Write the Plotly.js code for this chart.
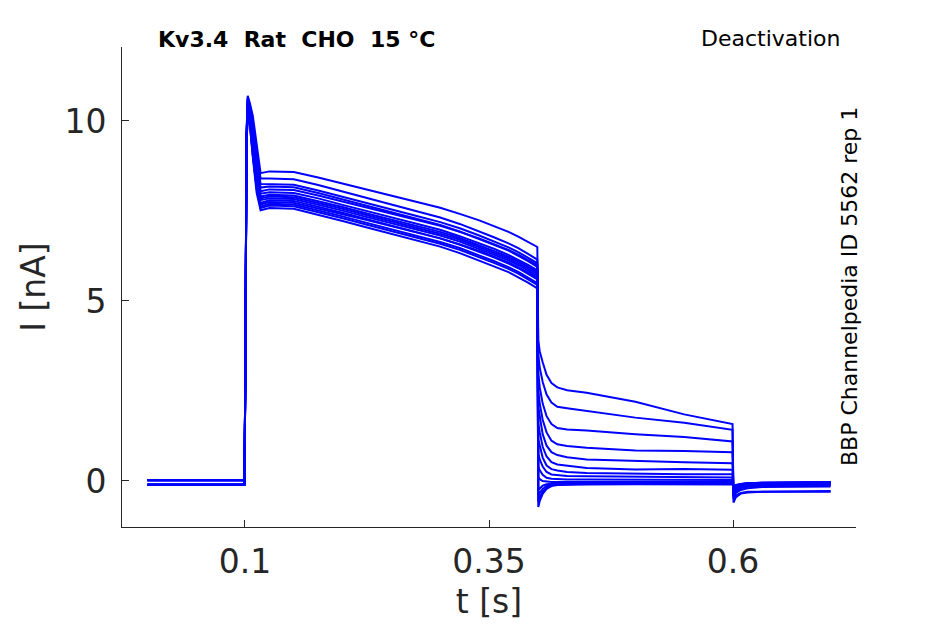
<!DOCTYPE html>
<html>
<head>
<meta charset="utf-8">
<script src="https://cdn.plot.ly/plotly-3.0.1.min.js"></script>
<style>html,body{margin:0;padding:0;background:#fff;}#chart{width:945px;height:624px;}</style>
</head>
<body>
<div id="chart"></div>
<script>
// time points (s) for each protocol segment
const tPre = [0, 0.0995];
const tPulse = [0.1005, 0.1015, 0.1028, 0.105, 0.108, 0.112, 0.116, 0.125,
                0.15, 0.175, 0.2, 0.225, 0.25, 0.275, 0.3, 0.32, 0.34, 0.355, 0.37, 0.38, 0.39, 0.3995];
const tTail = [0.4005, 0.402, 0.405, 0.409, 0.414, 0.42, 0.43, 0.45, 0.5, 0.55, 0.5995];
const tPost = [0.6005, 0.603, 0.608, 0.615, 0.63, 0.7];

// current (nA) per sweep, per segment
const iPre = [
  [0.02, 0.02], [-0.1, -0.1], [0.02, 0.02], [-0.1, -0.1], [0.03, 0.03], [-0.11, -0.11], [0.02, 0.02],
  [-0.1, -0.1], [0.03, 0.03], [-0.1, -0.1], [0.02, 0.02], [-0.11, -0.11], [0.02, 0.02], [0.03, 0.03]
];
const iPulse = [
  [3.6, 9.6, 10.7, 10.5, 10.15, 9.4, 8.55, 8.6, 8.58, 8.43, 8.26, 8.10, 7.93, 7.76, 7.59, 7.42, 7.24, 7.08, 6.92, 6.79, 6.65, 6.5],
  [3.5, 9.5, 10.65, 10.4, 9.95, 9.1, 8.4, 8.4, 8.38, 8.22, 8.04, 7.86, 7.68, 7.50, 7.32, 7.14, 6.94, 6.77, 6.60, 6.47, 6.31, 6.15],
  [3.6, 9.5, 10.6, 10.35, 9.85, 8.95, 8.25, 8.25, 8.23, 8.07, 7.90, 7.72, 7.55, 7.37, 7.19, 7.02, 6.82, 6.66, 6.49, 6.36, 6.20, 6.05],
  [3.4, 9.4, 10.6, 10.3, 9.8, 8.85, 8.15, 8.18, 8.16, 8.00, 7.82, 7.64, 7.47, 7.29, 7.11, 6.93, 6.73, 6.56, 6.40, 6.26, 6.11, 5.95],
  [3.5, 9.4, 10.55, 10.25, 9.7, 8.8, 8.05, 8.1, 8.08, 7.93, 7.76, 7.60, 7.43, 7.26, 7.09, 6.92, 6.74, 6.58, 6.42, 6.29, 6.15, 6.0],
  [3.6, 9.4, 10.5, 10.2, 9.6, 8.7, 7.98, 8.02, 8.00, 7.85, 7.67, 7.50, 7.33, 7.15, 6.98, 6.80, 6.61, 6.45, 6.28, 6.15, 6.00, 5.85],
  [3.5, 9.3, 10.5, 10.15, 9.5, 8.6, 7.9, 7.95, 7.93, 7.78, 7.61, 7.43, 7.26, 7.09, 6.92, 6.75, 6.55, 6.39, 6.23, 6.10, 5.95, 5.80],
  [3.4, 9.3, 10.45, 10.1, 9.45, 8.5, 7.85, 7.9, 7.88, 7.73, 7.56, 7.38, 7.21, 7.04, 6.87, 6.70, 6.50, 6.34, 6.18, 6.05, 5.90, 5.75],
  [3.5, 9.3, 10.45, 10.05, 9.35, 8.4, 7.8, 7.85, 7.83, 7.68, 7.51, 7.33, 7.16, 6.99, 6.82, 6.65, 6.45, 6.29, 6.13, 6.00, 5.85, 5.70],
  [3.6, 9.2, 10.4, 10.0, 9.3, 8.3, 7.72, 7.8, 7.78, 7.62, 7.45, 7.27, 7.10, 6.92, 6.74, 6.57, 6.37, 6.21, 6.04, 5.91, 5.75, 5.60],
  [3.4, 9.2, 10.4, 10.0, 9.2, 8.25, 7.68, 7.75, 7.73, 7.58, 7.41, 7.25, 7.08, 6.91, 6.74, 6.57, 6.39, 6.23, 6.07, 5.94, 5.80, 5.65],
  [3.5, 9.2, 10.35, 9.95, 9.1, 8.15, 7.62, 7.7, 7.68, 7.52, 7.35, 7.17, 7.00, 6.82, 6.64, 6.47, 6.27, 6.11, 5.94, 5.81, 5.65, 5.50],
  [3.5, 9.2, 10.3, 9.9, 9.05, 8.1, 7.58, 7.65, 7.63, 7.47, 7.30, 7.12, 6.95, 6.77, 6.59, 6.42, 6.22, 6.06, 5.89, 5.76, 5.60, 5.45],
  [3.6, 9.2, 10.3, 9.9, 9.0, 8.0, 7.52, 7.58, 7.56, 7.40, 7.22, 7.04, 6.87, 6.69, 6.51, 6.33, 6.13, 5.96, 5.80, 5.66, 5.51, 5.35]
];
const iTail = [
  [3.9, 3.6, 3.3, 2.95, 2.72, 2.6, 2.52, 2.45, 2.2, 1.85, 1.58],
  [3.5, 3.15, 2.75, 2.4, 2.18, 2.06, 2.02, 1.95, 1.76, 1.62, 1.42],
  [3.0, 2.6, 2.15, 1.8, 1.58, 1.47, 1.43, 1.4, 1.3, 1.22, 1.1],
  [2.5, 2.15, 1.7, 1.35, 1.12, 1.02, 0.97, 0.92, 0.85, 0.83, 0.8],
  [2.05, 1.75, 1.3, 0.98, 0.8, 0.72, 0.66, 0.6, 0.55, 0.52, 0.49],
  [1.6, 1.35, 0.95, 0.68, 0.52, 0.46, 0.42, 0.36, 0.32, 0.33, 0.31],
  [1.15, 0.95, 0.65, 0.43, 0.33, 0.29, 0.25, 0.22, 0.2, 0.19, 0.19],
  [0.75, 0.6, 0.4, 0.25, 0.18, 0.16, 0.14, 0.13, 0.12, 0.11, 0.1],
  [0.4, 0.3, 0.17, 0.09, 0.06, 0.05, 0.04, 0.04, 0.03, 0.03, 0.03],
  [0.1, 0.05, 0.0, -0.02, -0.03, -0.03, -0.03, -0.02, -0.02, -0.02, -0.02],
  [-0.25, -0.2, -0.13, -0.09, -0.07, -0.06, -0.05, -0.05, -0.05, -0.04, -0.04],
  [-0.42, -0.33, -0.22, -0.14, -0.1, -0.08, -0.07, -0.07, -0.06, -0.06, -0.06],
  [-0.58, -0.45, -0.3, -0.18, -0.12, -0.1, -0.09, -0.08, -0.08, -0.08, -0.08],
  [-0.72, -0.55, -0.36, -0.22, -0.14, -0.11, -0.1, -0.1, -0.09, -0.09, -0.1]
];
const iPost = [
  [-0.6, -0.45, -0.35, -0.32, -0.3, -0.3],
  [-0.5, -0.4, -0.33, -0.3, -0.3, -0.28],
  [-0.45, -0.33, -0.25, -0.2, -0.17, -0.15],
  [-0.4, -0.3, -0.2, -0.16, -0.14, -0.12],
  [-0.35, -0.25, -0.17, -0.13, -0.12, -0.1],
  [-0.3, -0.22, -0.15, -0.12, -0.1, -0.09],
  [-0.27, -0.2, -0.13, -0.1, -0.09, -0.07],
  [-0.25, -0.17, -0.12, -0.1, -0.08, -0.06],
  [-0.22, -0.15, -0.1, -0.08, -0.07, -0.05],
  [-0.2, -0.14, -0.1, -0.08, -0.06, -0.05],
  [-0.18, -0.13, -0.09, -0.07, -0.06, -0.04],
  [-0.17, -0.12, -0.09, -0.07, -0.05, -0.04],
  [-0.16, -0.12, -0.08, -0.06, -0.05, -0.03],
  [-0.15, -0.11, -0.08, -0.06, -0.05, -0.03]
];

const xTickVals = [0.1, 0.35, 0.6];
const xTickText = ['0.1', '0.35', '0.6'];
const yTickVals = [0, 5, 10];
const yTickText = ['0', '5', '10'];

const tAll = tPre.concat(tPulse, tTail, tPost);
const traces = iPre.map((pre, k) => ({
  x: tAll,
  y: pre.concat(iPulse[k], iTail[k], iPost[k]),
  type: 'scatter',
  mode: 'lines',
  line: {color: '#0000ff', width: 2},
  hoverinfo: 'skip',
  showlegend: false
}));

const FONT = 'DejaVu Sans, sans-serif';
const INK = '#262626';
const nb = s => s.replace(/ /g, '\u00A0');

const layout = {
  width: 945, height: 624,
  margin: {l: 122, r: 89, t: 47, b: 97},
  paper_bgcolor: '#ffffff', plot_bgcolor: '#ffffff',
  showlegend: false,
  xaxis: {
    range: [-0.026, 0.726],
    tickmode: 'array', tickvals: xTickVals, ticktext: xTickText,
    ticks: 'inside', ticklen: 7, tickwidth: 1, tickcolor: INK,
    showline: true, linecolor: INK, linewidth: 1,
    showgrid: false, zeroline: false,
    tickfont: {family: FONT, size: 33, color: INK},
    ticklabelstandoff: 5,
    title: {text: 't [s]', font: {family: FONT, size: 33, color: INK}, standoff: 10}
  },
  yaxis: {
    range: [-1.278, 12.055],
    tickmode: 'array', tickvals: yTickVals, ticktext: yTickText,
    ticks: 'inside', ticklen: 7, tickwidth: 1, tickcolor: INK,
    showline: true, linecolor: INK, linewidth: 1,
    showgrid: false, zeroline: false,
    tickfont: {family: FONT, size: 33, color: INK},
    ticklabelstandoff: 8,
    title: {text: 'I [nA]', font: {family: FONT, size: 33, color: INK}, standoff: 8}
  },
  annotations: [
    {text: '<b>' + nb('Kv3.4  Rat  CHO  15 °C') + '</b>', xref: 'paper', yref: 'paper',
     x: 0.238, y: 1.0146, xanchor: 'center', yanchor: 'middle', showarrow: false,
     font: {family: FONT, size: 22, color: '#000000'}},
    {text: 'Deactivation', xref: 'paper', yref: 'paper',
     x: 0.883, y: 1.0167, xanchor: 'center', yanchor: 'middle', showarrow: false,
     font: {family: FONT, size: 22, color: '#000000'}},
    {text: 'BBP Channelpedia ID 5562 rep 1', xref: 'paper', yref: 'paper',
     x: 0.9905, y: 0.5, xanchor: 'center', yanchor: 'middle', showarrow: false, textangle: -90,
     font: {family: FONT, size: 22, color: '#000000'}}
  ]
};

Plotly.newPlot('chart', traces, layout, {displayModeBar: false, staticPlot: true});
</script>
</body>
</html>
